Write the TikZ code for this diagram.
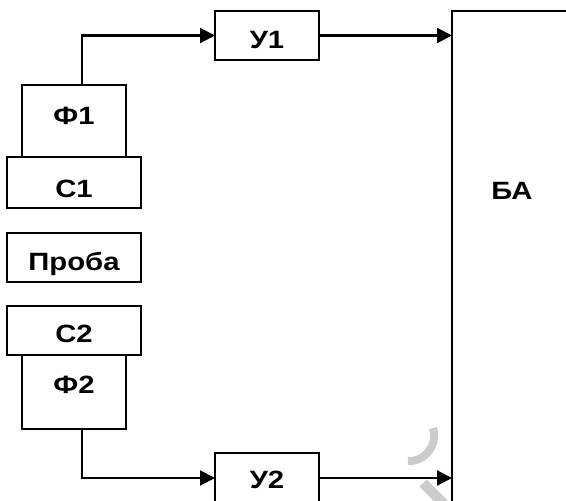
\documentclass[tikz,border=0pt]{standalone}
\usepackage{fontspec}
\setmainfont{Liberation Sans}[FakeStretch=1.17]
\usetikzlibrary{arrows.meta}
\tikzset{
  box/.style={draw, line width=2.2pt, inner sep=0pt, outer sep=0pt},
  lbl/.style={anchor=base, inner sep=0pt, font=\fontsize{25}{29}\selectfont\bfseries},
  arr/.style={line width=2.2pt, -{Triangle[length=15pt,width=15pt]}},
  wm/.style={draw=black!20, line width=8pt}
}
\begin{document}
\begin{tikzpicture}[x=1pt,y=-1pt]
\useasboundingbox (0,0) rectangle (566,501);
\clip (0,0) rectangle (566,501);
\fill[white] (0,0) rectangle (566,501);
% watermark fragments
\draw[wm] (433,428) .. controls (438,445) and (425,462) .. (408,461);
\draw[wm, line width=10pt] (423,483) -- (445,505);
% boxes
\node[box, minimum width=104pt, minimum height=49pt] (u1) at (267,35.5) {};
\node[box, minimum width=104pt, minimum height=72pt] (f1) at (74,121) {};
\node[box, minimum width=134pt, minimum height=51pt] (c1) at (74,182.5) {};
\node[box, minimum width=134pt, minimum height=49pt] (pr) at (74,257.5) {};
\node[box, minimum width=134pt, minimum height=49pt] (c2) at (74,330.5) {};
\node[box, minimum width=104pt, minimum height=74pt] (f2) at (74,392) {};
\node[box, minimum width=104pt, minimum height=50pt] (u2) at (267,478) {};
\node[box, minimum width=200pt, minimum height=560pt] (ba) at (552,291) {};
% labels
\node[lbl] (tu1) at (267,48) {У1};
\node[lbl] (tf1) at (74,124) {Ф1};
\node[lbl] (tc1) at (74,197) {С1};
\node[lbl] (tpr) at (74,270) {Проба};
\node[lbl] (tc2) at (74,342) {С2};
\node[lbl] (tf2) at (74,393) {Ф2};
\node[lbl] (tu2) at (267,488) {У2};
\node[lbl] (tba) at (512,199) {БА};
% connectors
\draw[arr] ([xshift=8pt]f1.north) |- (u1.west);
\draw[arr] (u1.east) -- (u1.east -| ba.west);
\draw[arr] ([xshift=8pt]f2.south) |- (u2.west);
\draw[arr] (u2.east) -- (u2.east -| ba.west);
\end{tikzpicture}
\end{document}
